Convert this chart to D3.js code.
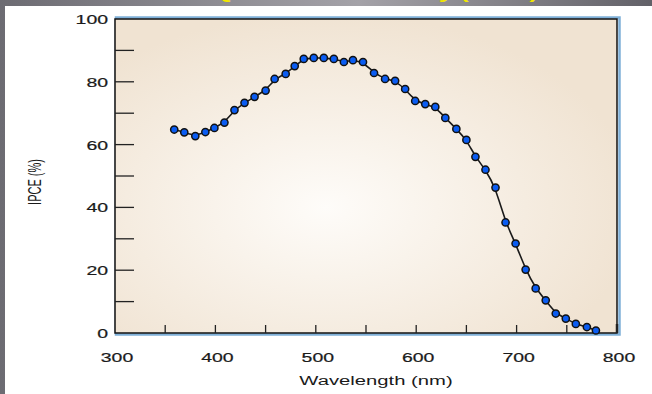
<!DOCTYPE html>
<html>
<head>
<meta charset="utf-8">
<script src="https://cdn.jsdelivr.net/npm/d3@7"></script>
<style>
  body { margin: 0; padding: 0; overflow: hidden; }
  svg { display: block; }
</style>
</head>
<body>
<svg id="chart" width="652" height="394"></svg>
<script>
//------------------------------------------------------------
//---------------------------DADOS----------------------------
var comprimentos = [359, 369, 380, 390, 399, 409, 419, 429, 439, 450, 459, 470,
                    479, 488, 498, 508, 518, 528, 537, 547, 558, 569, 579, 589,
                    599, 609, 619, 629, 640, 650, 659, 669, 679, 689, 699, 709,
                    719, 729, 739, 749, 759, 770, 779];
var ipce = [64.8, 63.9, 62.7, 64.0, 65.3, 67.0, 71.0, 73.3, 75.2, 77.2, 80.9, 82.5,
            85.0, 87.3, 87.6, 87.6, 87.3, 86.3, 86.9, 86.3, 82.8, 80.9, 80.3, 77.7,
            73.9, 72.9, 72.0, 68.5, 65.0, 61.5, 56.1, 52.0, 46.3, 35.2, 28.5, 20.2,
            14.2, 10.4, 6.2, 4.6, 2.9, 1.9, 0.8];
var ticksX = [300, 400, 500, 600, 700, 800];
var ticksXMenores = [350, 400, 450, 500, 550, 600, 650, 700, 750, 800];
var ticksY = [0, 20, 40, 60, 80, 100];
var ticksYMenores = [10, 20, 30, 40, 50, 60, 70, 80, 90];

var dataset = comprimentos.map(function(c, i) { return {nm: c, v: ipce[i]}; });

// a figura original esta esticada na horizontal
var estica = 1.62;
var fonte = "Liberation Sans, Arial, sans-serif";

//------------------------------------------------------------
//---------------------------MOLDURA---------------------------
var svg = d3.select("#chart");
var defs = svg.append("defs");

var fundo = defs.append("linearGradient").attr("id", "fundoCinza")
  .attr("x1", "0").attr("x2", "1").attr("y1", "0").attr("y2", "0");
fundo.append("stop").attr("offset", "0").attr("stop-color", "#6c6b72");
fundo.append("stop").attr("offset", "0.55").attr("stop-color", "#a4a2a8");
fundo.append("stop").attr("offset", "1").attr("stop-color", "#626168");

var bege = defs.append("radialGradient").attr("id", "fundoBege")
  .attr("cx", "0.42").attr("cy", "0.6").attr("r", "0.62");
bege.append("stop").attr("offset", "0").attr("stop-color", "#fefcf9");
bege.append("stop").attr("offset", "1").attr("stop-color", "#f0e3d2");

svg.append("rect").attr("width", 652).attr("height", 394).attr("fill", "url(#fundoCinza)");
svg.append("rect").attr("x", 5).attr("y", 6).attr("width", 647).attr("height", 388).attr("fill", "#ffffff");

// titulo cortado no topo (so aparecem os descendentes)
svg.append("text")
  .attr("transform", "translate(538,-1.5) scale(" + estica + ",1)")
  .attr("text-anchor", "end")
  .attr("font-family", fonte)
  .attr("font-size", "16px")
  .attr("font-weight", "bold")
  .attr("fill", "#f2e600")
  .text("Quantum efficiency (IPCE)");

//------------------------------------------------------------
//---------------------------ESCALAS---------------------------
var esq = 115, dir = 617, topo = 19, base = 333;
var xScale = d3.scaleLinear().domain([300, 800]).range([esq, dir]);
var yScale = d3.scaleLinear().domain([0, 100]).range([base, topo]);

// sombra azul da moldura
svg.append("rect")
  .attr("x", esq + 1).attr("y", topo - 1.5)
  .attr("width", dir - esq + 1.5).attr("height", base - topo + 3)
  .attr("fill", "none").attr("stroke", "#7fb0d8").attr("stroke-width", 2.5);

svg.append("rect")
  .attr("x", esq).attr("y", topo)
  .attr("width", dir - esq).attr("height", base - topo)
  .attr("fill", "url(#fundoBege)")
  .attr("stroke", "#111").attr("stroke-width", 1.5);

//------------------------------------------------------------
//---------------------------EIXOS-----------------------------
var g = svg.append("g").attr("class", "chart-ipce");

g.selectAll(".tickY").data(ticksYMenores).enter().append("line")
  .attr("x1", esq).attr("x2", esq + 19)
  .attr("y1", function(d) { return yScale(d); })
  .attr("y2", function(d) { return yScale(d); })
  .attr("stroke", "#222").attr("stroke-width", 1.3);

g.selectAll(".tickX").data(ticksXMenores).enter().append("line")
  .attr("x1", function(d) { return xScale(d); })
  .attr("x2", function(d) { return xScale(d); })
  .attr("y1", base).attr("y2", function(d) { return d === 800 ? base - 9 : base - 8; })
  .attr("stroke", "#222").attr("stroke-width", function(d) { return d === 800 ? 2.5 : 1.3; });

g.selectAll(".rotY").data(ticksY).enter().append("text")
  .attr("transform", function(d) {
    return "translate(" + (esq - 7) + "," + (yScale(d) + 5) + ") scale(" + estica + ",1)";
  })
  .attr("text-anchor", "end")
  .attr("font-family", fonte)
  .attr("font-size", "12px")
  .attr("fill", "#1a1a1a")
  .attr("stroke", "#1a1a1a").attr("stroke-width", 0.2)
  .text(function(d) { return d; });

g.selectAll(".rotX").data(ticksX).enter().append("text")
  .attr("transform", function(d) {
    return "translate(" + (xScale(d) + 2) + "," + (base + 29) + ") scale(" + estica + ",1)";
  })
  .attr("text-anchor", "middle")
  .attr("font-family", fonte)
  .attr("font-size", "12px")
  .attr("fill", "#1a1a1a")
  .attr("stroke", "#1a1a1a").attr("stroke-width", 0.2)
  .text(function(d) { return d; });

g.append("text")
  .attr("transform", "translate(376," + (base + 52) + ") scale(" + estica + ",1)")
  .attr("text-anchor", "middle")
  .attr("font-family", fonte)
  .attr("font-size", "12.5px")
  .attr("fill", "#1a1a1a")
  .text("Wavelength (nm)");

g.append("text")
  .attr("transform", "translate(41,182) scale(" + estica + ",1) rotate(-90)")
  .attr("text-anchor", "middle")
  .attr("font-family", fonte)
  .attr("font-size", "11px")
  .attr("fill", "#1a1a1a")
  .text("IPCE (%)");

//------------------------------------------------------------
//---------------------------CURVA E PONTOS--------------------
var linha = d3.line()
  .x(function(d) { return xScale(d.nm); })
  .y(function(d) { return yScale(d.v); })
  .curve(d3.curveBasis);

g.append("path").datum(dataset)
  .attr("d", linha)
  .attr("fill", "none")
  .attr("stroke", "#1a1a1a")
  .attr("stroke-width", 1.6);

g.selectAll("#pontoIpce").data(dataset).enter().append("circle")
  .attr("cx", function(d) { return xScale(d.nm); })
  .attr("cy", function(d) { return yScale(d.v); })
  .attr("r", 3.6)
  .attr("fill", "#0a5cf2")
  .attr("stroke", "#111")
  .attr("stroke-width", 1.5);
</script>
</body>
</html>
